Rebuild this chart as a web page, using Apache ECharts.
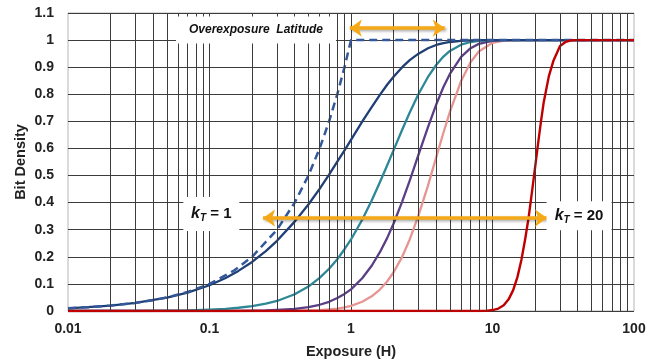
<!DOCTYPE html>
<html><head><meta charset="utf-8">
<script src="https://cdn.jsdelivr.net/npm/echarts@6/dist/echarts.min.js"></script>
<style>html,body{margin:0;padding:0;background:#fff}#c{width:661px;height:364px}</style>
</head><body><div id="c"></div>
<script>
// ---- data ----
const xTickLabels = ['0.01', '0.1', '1', '10', '100'];
const minorGridX = [0.02,0.03,0.04,0.05,0.06,0.07,0.08,0.09,
                    0.2,0.3,0.4,0.5,0.6,0.7,0.8,0.9,
                    2,3,4,5,6,7,8,9,
                    20,30,40,50,60,70,80,90];

// dashed reference line
const linearH = [0.01,0.015,0.02,0.03,0.04,0.05,0.07,0.1,0.15,0.2,0.3,0.4,0.5,0.6,0.7,0.8,0.9,1,100];
const linearY = [0.01,0.015,0.02,0.03,0.04,0.05,0.07,0.1,0.15,0.2,0.3,0.4,0.5,0.6,0.7,0.8,0.9,1,1];

// exposure samples shared by the kT = 1..4 curves
const expH = [0.01,0.02,0.03,0.05,0.07,0.1,0.13,0.16,0.2,0.25,0.3,0.4,0.5,0.6,0.7,0.8,0.9,1,
              1.2,1.4,1.6,1.8,2,2.3,2.6,3,3.5,4,4.5,5,6,7,8,10,12,15,20,100];
const k1Y = [0.01,0.02,0.03,0.049,0.068,0.095,0.122,0.148,0.181,0.221,0.259,0.33,0.393,0.451,0.503,0.551,0.593,0.632,
             0.699,0.753,0.798,0.835,0.865,0.9,0.926,0.95,0.97,0.982,0.989,0.993,0.997,0.999,1,1,1,1,1,1];
const k2Y = [0,0,0,0.001,0.002,0.005,0.008,0.012,0.018,0.027,0.037,0.062,0.09,0.122,0.156,0.191,0.228,0.264,
             0.337,0.408,0.475,0.537,0.594,0.669,0.733,0.801,0.864,0.908,0.939,0.96,0.983,0.993,0.997,1,1,1,1,1];
const k3Y = [0,0,0,0,0,0,0,0,0.001,0.002,0.004,0.008,0.014,0.023,0.034,0.048,0.063,0.08,
             0.121,0.167,0.217,0.269,0.323,0.404,0.481,0.577,0.679,0.762,0.827,0.875,0.938,0.97,0.986,0.997,1,1,1,1];
const k4Y = [0,0,0,0,0,0,0,0,0,0,0,0.001,0.002,0.003,0.006,0.009,0.013,0.019,
             0.034,0.054,0.079,0.109,0.143,0.2,0.264,0.353,0.463,0.567,0.658,0.735,0.849,0.918,0.958,0.99,0.998,1,1,1];

const k20H = [0.01,8,9,10,11,12,13,14,15,16,17,18,19,20,21,22,23,25,27,30,33,36,40,100];
const k20Y = [0,0,0.0005,0.0035,0.009,0.021,0.043,0.077,0.125,0.188,0.264,0.345,0.439,0.53,0.619,0.699,0.77,0.866,0.925,0.978,0.994,0.999,1,1];

const annotations = [
  {at: [0.213, 1.037], w: 160, h: 27, kind: 'latitude', text: 'Overexposure  Latitude'},
  {at: [0.103, 0.358], w: 56, h: 34, kind: 'kt', value: '1'},
  {at: [40.9, 0.352], w: 65, h: 29, kind: 'kt', value: '20'}
];
const arrows = [
  {from: [0.98, 1.044], to: [4.6, 1.044]},
  {from: [0.239, 0.343], to: [24.3, 0.343]}
];

// ---- chart ----
const FONT = '"Liberation Sans", Arial, sans-serif';
const zip = (xs, ys) => xs.map((x, i) => [x, ys[i]]);
const chart = echarts.init(document.getElementById('c'), null, {renderer: 'canvas'});

function curve(name, xs, ys, color, extra) {
  return Object.assign({
    name, type: 'line', data: zip(xs, ys), showSymbol: false, symbol: 'none',
    smooth: false, z: 3, silent: true,
    lineStyle: {color, width: 2.3, join: 'round'}
  }, extra || {});
}

const option = {
  animation: false,
  backgroundColor: '#fff',
  grid: {left: 68, right: 27, top: 13, bottom: 53, show: true, borderColor: '#b5b5b5', borderWidth: 1},
  xAxis: {
    type: 'log', logBase: 10, min: 0.01, max: 100,
    name: 'Exposure (H)', nameLocation: 'middle', nameGap: 33, nameMoveOverlap: false,
    nameTextStyle: {fontFamily: FONT, fontWeight: 'bold', fontSize: 14.5, color: '#222'},
    axisLine: {show: false}, axisTick: {show: false},
    axisLabel: {
      margin: 11, fontFamily: FONT, fontWeight: 'bold', fontSize: 14, color: '#222',
      formatter: (v) => xTickLabels[Math.round(Math.log10(v)) + 2]
    },
    splitLine: {show: true, showMinLine: false, showMaxLine: false, lineStyle: {color: '#3c3c3c', width: 1}}
  },
  yAxis: {
    type: 'value', min: 0, max: 1.1, interval: 0.1,
    name: 'Bit Density', nameLocation: 'middle', nameGap: 40, nameMoveOverlap: false,
    nameTextStyle: {fontFamily: FONT, fontWeight: 'bold', fontSize: 14.5, color: '#222'},
    axisLine: {show: false}, axisTick: {show: false},
    axisLabel: {
      margin: 14, fontFamily: FONT, fontWeight: 'bold', fontSize: 14, color: '#222',
      formatter: (v) => String(Math.round(v * 10) / 10)
    },
    splitLine: {show: true, lineStyle: {color: '#3c3c3c', width: 1}}
  },
  series: [
    {
      type: 'line', data: [], z: 1, silent: true,
      markLine: {
        silent: true, symbol: 'none', animation: false,
        label: {show: false},
        lineStyle: {color: '#3c3c3c', width: 1, type: 'solid'},
        data: minorGridX.map(v => ({xAxis: v}))
      }
    },
    curve('kT=4', expH, k4Y, '#E79592'),
    curve('kT=3', expH, k3Y, '#5B3F86'),
    curve('kT=2', expH, k2Y, '#2D8797'),
    curve('kT=1', expH, k1Y, '#1F3F76'),
    curve('linear', linearH, linearY, '#33599A', {lineStyle: {color: '#33599A', width: 2.5, type: [8, 5]}}),
    curve('kT=20', k20H, k20Y, '#C00000', {lineStyle: {color: '#C00000', width: 2.4, join: 'round'}}),
    {
      type: 'line', data: [], z: 12, silent: true,
      markLine: {
        silent: true, animation: false, symbol: ['arrow', 'arrow'], symbolSize: [13, 12],
        label: {show: false},
        lineStyle: {color: '#F6A917', width: 3.5, type: 'solid',
          shadowColor: 'rgba(0,0,0,0.35)', shadowBlur: 3, shadowOffsetX: 1.5, shadowOffsetY: 1.5},
        data: arrows.map(a => [{coord: a.from}, {coord: a.to}])
      }
    }
  ]
};
chart.setOption(option);

const graphics = annotations.map(a => {
  const p = chart.convertToPixel({gridIndex: 0}, a.at);
  let textEl;
  if (a.kind === 'latitude') {
    textEl = {type: 'text', z: 11, style: {
      text: a.text, x: 0, y: 0, align: 'center', verticalAlign: 'middle',
      fontFamily: FONT, fontWeight: 'bold', fontStyle: 'italic', fontSize: 12, fill: '#111'}};
  } else {
    textEl = {type: 'text', z: 11, style: {
      text: '{k|k}{t|T}{n| = ' + a.value + '}', x: 0, y: 0, align: 'center', verticalAlign: 'middle',
      fill: '#111',
      rich: {
        k: {fontFamily: FONT, fontWeight: 'bold', fontStyle: 'italic', fontSize: 16, fill: '#111'},
        t: {fontFamily: FONT, fontWeight: 'bold', fontStyle: 'italic', fontSize: 10, fill: '#111', padding: [9, 0, 0, 0]},
        n: {fontFamily: FONT, fontWeight: 'bold', fontSize: 15, fill: '#111'}
      }}};
  }
  return {
    type: 'group', x: p[0], y: p[1], z: 10,
    children: [
      {type: 'rect', z: 10, shape: {x: -a.w / 2, y: -a.h / 2, width: a.w, height: a.h}, style: {fill: '#fff'}},
      textEl
    ]
  };
});
chart.setOption({graphic: graphics});
</script>
</body></html>
